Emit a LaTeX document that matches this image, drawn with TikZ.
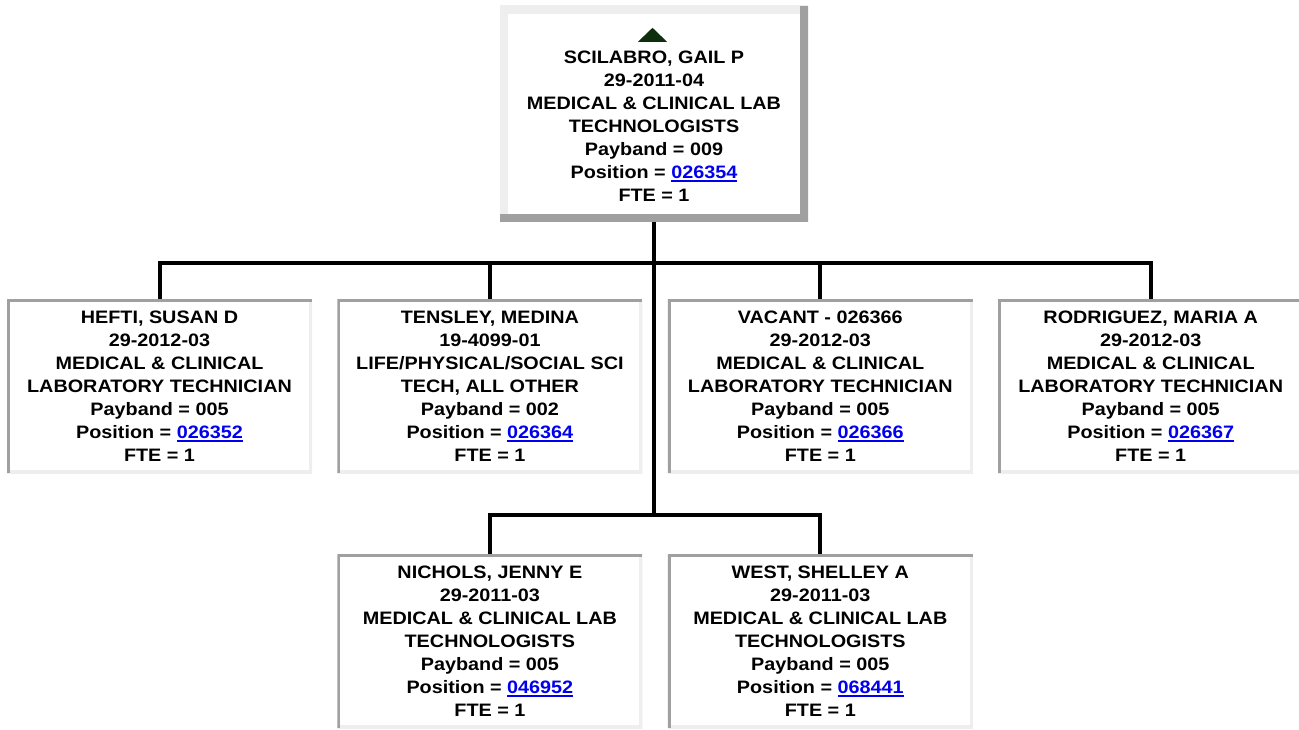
\documentclass[tikz,border=0pt]{standalone}
\usepackage{fontspec}
\setmainfont[FakeStretch=1.1]{Liberation Sans}
\usetikzlibrary{positioning}

\definecolor{bevdark}{RGB}{160,160,160}
\definecolor{bevlight}{RGB}{238,238,238}
\definecolor{linkblue}{RGB}{0,0,238}
\definecolor{upgreen}{RGB}{14,46,14}

% position number shown as a link
\newcommand{\posref}[1]{\textcolor{linkblue}{\setbox0\hbox{#1}\rlap{\rule[-3.3pt]{\wd0}{1.8pt}}\box0}}

\begin{document}
\begin{tikzpicture}[
    x=1pt, y=-1pt,
    bossbox/.style={
        fill=white,
        align=center,
        minimum width=308pt,
        minimum height=216pt,
        inner sep=0pt,
        font=\fontsize{18}{23}\selectfont\bfseries,
        path picture={
            \draw[bevlight, line width=16pt]
                (path picture bounding box.south west) -- (path picture bounding box.north west)
                -- (path picture bounding box.north east);
            \draw[bevdark, line width=16pt]
                (path picture bounding box.south west) -- (path picture bounding box.south east)
                -- (path picture bounding box.north east);
        }
    },
    staffbox/.style={
        fill=white,
        align=center,
        minimum width=305pt,
        minimum height=174pt,
        inner sep=0pt,
        font=\fontsize{18}{23}\selectfont\bfseries,
        path picture={
            \draw[bevlight, line width=6pt]
                (path picture bounding box.south west) -- (path picture bounding box.south east)
                -- (path picture bounding box.north east);
            \draw[bevdark, line width=6pt]
                (path picture bounding box.south west) -- (path picture bounding box.north west)
                -- (path picture bounding box.north east);
        }
    },
    conn/.style={line width=4pt, black},
    node distance=81pt and 25pt
]
\useasboundingbox (0,0) rectangle (1299,730);

% Supervisor
\node[bossbox] (boss) at (654,114) {
    \rule{0pt}{14pt}\\
    SCILABRO, GAIL P\\
    29-2011-04\\
    MEDICAL \& CLINICAL LAB\\
    TECHNOLOGISTS\\
    Payband = 009\\
    Position = \posref{026354}\\
    FTE = 1
};
\fill[upgreen] ([shift={(-1.5,22)}]boss.north) -- ([shift={(13,36)}]boss.north)
    -- ([shift={(-16,36)}]boss.north) -- cycle;

% Row 1
\node[staffbox] (hefti) at (159.5,386) {
    HEFTI, SUSAN D\\
    29-2012-03\\
    MEDICAL \& CLINICAL\\
    LABORATORY TECHNICIAN\\
    Payband = 005\\
    Position = \posref{026352}\\
    FTE = 1
};
\node[staffbox, right=of hefti] (tensley) {
    TENSLEY, MEDINA\\
    19-4099-01\\
    LIFE/PHYSICAL/SOCIAL SCI\\
    TECH, ALL OTHER\\
    Payband = 002\\
    Position = \posref{026364}\\
    FTE = 1
};
\node[staffbox, right=of tensley] (vacant) {
    VACANT - 026366\\
    29-2012-03\\
    MEDICAL \& CLINICAL\\
    LABORATORY TECHNICIAN\\
    Payband = 005\\
    Position = \posref{026366}\\
    FTE = 1
};
\node[staffbox, right=of vacant] (rodriguez) {
    RODRIGUEZ, MARIA A\\
    29-2012-03\\
    MEDICAL \& CLINICAL\\
    LABORATORY TECHNICIAN\\
    Payband = 005\\
    Position = \posref{026367}\\
    FTE = 1
};

% Row 2
\node[staffbox, below=of tensley] (nichols) {
    NICHOLS, JENNY E\\
    29-2011-03\\
    MEDICAL \& CLINICAL LAB\\
    TECHNOLOGISTS\\
    Payband = 005\\
    Position = \posref{046952}\\
    FTE = 1
};
\node[staffbox, below=of vacant] (west) {
    WEST, SHELLEY A\\
    29-2011-03\\
    MEDICAL \& CLINICAL LAB\\
    TECHNOLOGISTS\\
    Payband = 005\\
    Position = \posref{068441}\\
    FTE = 1
};

% Lines
\coordinate (bus) at ([yshift=-41pt]boss.south);
\coordinate (lowbus) at ([yshift=-293pt]boss.south);

\draw[conn] (boss.south) -- (lowbus);
\draw[conn] (bus) -| (hefti.north);
\draw[conn] (bus) -| (tensley.north);
\draw[conn] (bus) -| (vacant.north);
\draw[conn] (bus) -| (rodriguez.north);
\draw[conn] (lowbus) -| (nichols.north);
\draw[conn] (lowbus) -| (west.north);

\end{tikzpicture}
\end{document}
